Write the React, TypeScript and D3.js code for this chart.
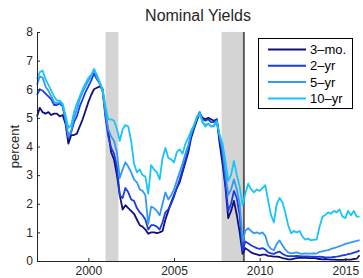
import React, { useEffect, useRef } from 'react';
import * as d3 from 'd3';

// every other month, Jan 1997 .. Nov 2015
const dates: Date[] = d3.timeMonth.every(2)!.range(new Date(1997, 0, 1), new Date(2015, 11, 1));

const y3mo = [
  5.05, 5.35, 5.2, 5.15, 5.2, 5.1, 5.15, 5.15, 5.05, 5.1, 4.8, 4.1,
  4.4, 4.4, 4.45, 4.7, 4.95, 5.25, 5.55, 5.8, 6.0, 6.05, 6.1, 6.0,
  5.1, 4.5, 3.8, 3.55, 3.0, 2.3, 1.8, 1.95, 1.85, 1.75, 1.65, 1.45,
  1.25, 1.2, 1.1, 0.95, 1.0, 1.0, 0.97, 1.0, 1.05, 1.45, 1.75, 2.05,
  2.3, 2.55, 2.75, 3.1, 3.45, 3.8, 4.3, 4.6, 4.9, 5.15, 5.0, 4.95,
  5.0, 4.95, 4.9, 4.95, 4.1, 3.4, 2.6, 1.5, 1.75, 2.1, 1.6, 1.0,
  0.25, 0.45, 0.38, 0.3, 0.26, 0.23, 0.2, 0.22, 0.22, 0.18, 0.17, 0.15,
  0.15, 0.14, 0.1, 0.08, 0.06, 0.06, 0.08, 0.1, 0.11, 0.11, 0.12, 0.1,
  0.1, 0.11, 0.08, 0.07, 0.06, 0.07, 0.06, 0.05, 0.05, 0.04, 0.04, 0.04,
  0.05, 0.05, 0.05, 0.07, 0.08, 0.2,
];

const y2yr = [
  5.8, 6.0, 5.95, 5.85, 5.75, 5.65, 5.45, 5.45, 5.5, 5.4, 4.9, 4.3,
  4.5, 4.85, 5.05, 5.4, 5.65, 5.9, 6.1, 6.3, 6.55, 6.35, 6.2, 5.95,
  5.0, 4.35, 3.95, 3.75, 3.3, 2.3, 2.2, 2.55, 2.4, 2.15, 2.1, 1.85,
  1.7, 1.6, 1.45, 1.1, 1.25, 1.25, 1.2, 1.1, 1.35, 1.7, 1.8, 2.0,
  2.25, 2.55, 2.85, 3.2, 3.55, 3.9, 4.4, 4.7, 5.0, 5.2, 4.95, 4.9,
  4.95, 4.85, 4.85, 4.95, 4.3, 3.7, 2.7, 1.75, 2.0, 2.45, 2.2, 1.6,
  0.35, 0.68, 0.62, 0.55, 0.5, 0.45, 0.42, 0.45, 0.4, 0.3, 0.27, 0.25,
  0.3, 0.33, 0.25, 0.2, 0.17, 0.17, 0.17, 0.18, 0.17, 0.16, 0.16, 0.16,
  0.15, 0.15, 0.14, 0.15, 0.14, 0.13, 0.13, 0.13, 0.14, 0.15, 0.17, 0.2,
  0.21, 0.24, 0.26, 0.29, 0.32, 0.37,
];

const y5yr = [
  6.15, 6.45, 6.4, 6.1, 5.95, 5.75, 5.55, 5.5, 5.55, 5.45, 4.95, 4.35,
  4.55, 5.0, 5.3, 5.65, 5.9, 6.1, 6.3, 6.45, 6.7, 6.4, 6.2, 5.9,
  5.15, 4.6, 4.35, 4.2, 3.8, 2.9, 3.2, 3.45, 3.3, 3.1, 2.85, 2.75,
  2.5, 2.45, 2.3, 1.3, 1.9, 1.85, 1.75, 1.6, 2.0, 2.4, 2.15, 2.3,
  2.5, 2.8, 3.1, 3.4, 3.75, 4.05, 4.45, 4.7, 5.0, 5.2, 4.85, 4.75,
  4.8, 4.7, 4.7, 4.9, 4.35, 3.9, 3.1, 2.3, 2.5, 2.85, 2.5, 2.0,
  0.7, 1.05, 1.15, 1.05, 0.97, 1.0, 0.95, 1.0, 0.88, 0.55, 0.42, 0.38,
  0.6, 0.72, 0.55, 0.4, 0.3, 0.27, 0.28, 0.3, 0.27, 0.25, 0.27, 0.26,
  0.26, 0.27, 0.26, 0.32, 0.34, 0.36, 0.38, 0.42, 0.45, 0.48, 0.52, 0.55,
  0.6, 0.62, 0.65, 0.68, 0.7, 0.73,
];

const y10yr = [
  6.35, 6.6, 6.65, 6.35, 6.15, 5.95, 5.75, 5.6, 5.6, 5.5, 5.1, 4.65,
  4.75, 5.2, 5.5, 5.75, 6.0, 6.2, 6.4, 6.5, 6.7, 6.5, 6.25, 6.0,
  5.4, 4.95, 4.95, 4.9, 4.6, 4.2, 4.6, 4.75, 4.7, 4.2, 3.4, 3.1,
  3.2, 3.0, 2.95, 2.35, 3.35, 3.2, 3.1, 2.85, 3.6, 3.95, 3.6, 3.55,
  3.45, 3.8, 3.9, 3.75, 4.1, 4.3, 4.55, 4.75, 5.0, 5.15, 4.85, 4.7,
  4.8, 4.7, 4.75, 4.85, 4.4, 4.1, 3.5, 2.8, 3.0, 3.5, 3.0, 2.6,
  1.95, 2.35, 2.7, 2.5, 2.4, 2.5, 2.45, 2.55, 2.65, 2.1, 1.6, 1.35,
  2.0, 2.2, 2.05, 1.7, 1.25, 0.97, 1.05, 1.0, 1.05, 0.85, 0.75, 0.78,
  0.72, 0.75, 0.75, 1.2, 1.55, 1.6, 1.7, 1.65, 1.75, 1.7, 1.8, 1.55,
  1.5, 1.75, 1.6, 1.75, 1.55, 1.55,
];

const seriesNames = ['3\u2013mo.', '2\u2013yr', '5\u2013yr', '10\u2013yr'];
const seriesColors = ['#10107a', '#1a3ce6', '#3399f2', '#19c4f7'];
const recessions: [Date, Date][] = [
  [new Date(2001, 0, 1), new Date(2001, 9, 1)],
  [new Date(2007, 9, 12), new Date(2009, 0, 1)],
];
const markerDate = new Date(2009, 0, 28);
const yearTicks = [2000, 2005, 2010, 2015];
const yTicks = [0, 1, 2, 3, 4, 5, 6, 7, 8];

const FONT = '"Liberation Sans", Arial, sans-serif';

const NominalYields = () => {
  const svgRef = useRef<SVGSVGElement>(null);

  useEffect(() => {
    const margin = { top: 32, right: 4, bottom: 17, left: 37 };
    const W = 363;
    const H = 278;
    const width = W - margin.left - margin.right;
    const height = H - margin.top - margin.bottom;

    const svg = d3.select(svgRef.current);
    svg.selectAll('*').remove();
    svg.attr('width', W).attr('height', H).style('font-family', FONT);

    const g = svg.append('g').attr('transform', `translate(${margin.left},${margin.top})`);

    const x = d3.scaleTime()
      .domain([new Date(1997, 0, 1), new Date(2015, 9, 20)])
      .range([0, width]);
    const y = d3.scaleLinear().domain([0, 8]).range([height, 0]);

    // recession shading
    g.selectAll('.rec')
      .data(recessions)
      .enter()
      .append('rect')
      .attr('class', 'rec')
      .attr('x', d => x(d[0]))
      .attr('width', d => x(d[1]) - x(d[0]))
      .attr('y', 0)
      .attr('height', height)
      .attr('fill', '#d4d4d4');

    g.append('line')
      .attr('x1', x(markerDate))
      .attr('x2', x(markerDate))
      .attr('y1', 0)
      .attr('y2', height)
      .attr('stroke', '#555')
      .attr('stroke-width', 2);

    const line = d3.line<number>()
      .x((d, i) => x(dates[i]))
      .y(d => y(d));

    const values = [y3mo, y2yr, y5yr, y10yr];
    values.forEach((vals, k) => {
      g.append('path')
        .datum(vals)
        .attr('fill', 'none')
        .attr('stroke', seriesColors[k])
        .attr('stroke-width', 1.8)
        .attr('stroke-linejoin', 'round')
        .attr('d', line);
    });

    // axes
    const xAxis = g.append('g')
      .attr('transform', `translate(0,${height})`)
      .call(d3.axisBottom(x)
        .tickValues(yearTicks.map(yr => new Date(yr, 0, 1)))
        .tickFormat(d => d3.timeFormat('%Y')(d as Date))
        .tickSizeInner(-3)
        .tickSizeOuter(0)
        .tickPadding(5));

    const yAxis = g.append('g')
      .call(d3.axisLeft(y)
        .tickValues(yTicks)
        .tickFormat(d3.format('d'))
        .tickSizeInner(-3)
        .tickSizeOuter(0)
        .tickPadding(4));

    [xAxis, yAxis].forEach(ax => {
      ax.selectAll('text').style('font-size', '12px').style('font-family', FONT).attr('fill', '#262626');
      ax.selectAll('line').attr('stroke', '#262626');
      ax.select('.domain').attr('stroke', '#262626');
    });

    // y label
    svg.append('text')
      .attr('transform', `translate(19,${margin.top + height / 2}) rotate(-90)`)
      .attr('text-anchor', 'middle')
      .style('font-size', '13px')
      .attr('fill', '#262626')
      .text('percent');

    // title
    svg.append('text')
      .attr('x', margin.left + width / 2)
      .attr('y', 21)
      .attr('text-anchor', 'middle')
      .style('font-size', '16px')
      .attr('fill', '#262626')
      .text('Nominal Yields');

    // legend
    const lg = svg.append('g').attr('transform', 'translate(258.5,38.5)');
    lg.append('rect')
      .attr('width', 94)
      .attr('height', 70)
      .attr('fill', 'white')
      .attr('stroke', '#000')
      .attr('stroke-width', 1);
    seriesNames.forEach((name, k) => {
      const yy = 11 + k * 16.3;
      lg.append('line')
        .attr('x1', 9.5)
        .attr('x2', 47.5)
        .attr('y1', yy)
        .attr('y2', yy)
        .attr('stroke', seriesColors[k])
        .attr('stroke-width', 2);
      lg.append('text')
        .attr('x', 51.5)
        .attr('y', yy)
        .attr('dy', '0.35em')
        .style('font-size', '13px')
        .attr('fill', '#000')
        .text(name);
    });
  }, []);

  return <svg ref={svgRef} style={{ position: 'absolute', left: 0, top: 0 }}></svg>;
};

export default function App() {
  return <NominalYields />;
}
